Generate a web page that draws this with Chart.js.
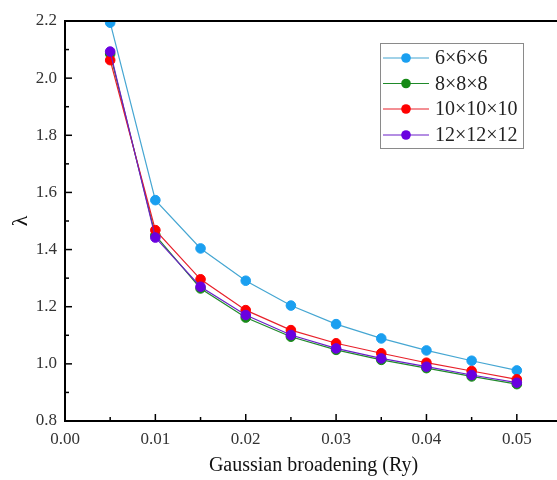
<!DOCTYPE html>
<html>
<head>
<meta charset="utf-8">
<script src="https://cdn.jsdelivr.net/npm/chart.js@4/dist/chart.umd.min.js"></script>
<style>
  html, body { margin: 0; padding: 0; background: #fff; overflow: hidden; }
  #wrap { width: 570px; height: 480px; }
</style>
</head>
<body>
<div id="wrap"><canvas id="lambda_Chart" width="570" height="480"></canvas></div>
<script>
// gaussian broadening (Ry)
let broadening = [0.005, 0.010, 0.015, 0.020, 0.025, 0.030, 0.035, 0.040, 0.045, 0.050];

let k6  = [2.194, 1.573, 1.404, 1.291, 1.204, 1.139, 1.089, 1.047, 1.011, 0.977];
let k8  = [2.085, 1.450, 1.264, 1.162, 1.095, 1.049, 1.014, 0.985, 0.956, 0.929];
let k10 = [2.063, 1.468, 1.296, 1.188, 1.118, 1.072, 1.037, 1.004, 0.975, 0.946];
let k12 = [2.093, 1.442, 1.270, 1.171, 1.101, 1.054, 1.019, 0.990, 0.961, 0.934];

let series_names = ['6×6×6', '8×8×8', '10×10×10', '12×12×12'];
let line_colors = ['#45a6d2', '#1f8a2a', '#e8202a', '#6a1fc8'];
let dot_colors = ['#1a9ff0', '#168a16', '#ff0000', '#6a00e0'];

function pts(ys) {
    return ys.map((y, i) => ({x: broadening[i], y: y}));
}

function makeSet(i, ys, order) {
    return {
        label: series_names[i],
        data: pts(ys),
        borderColor: line_colors[i],
        backgroundColor: dot_colors[i],
        pointBackgroundColor: dot_colors[i],
        pointBorderColor: dot_colors[i],
        borderWidth: 1.2,
        pointRadius: 4.8,
        pointBorderWidth: 1,
        tension: 0,
        order: order,
    };
}

// inward ticks + top frame line
const frameTicks = {
    id: 'frameTicks',
    afterDraw(chart) {
        const c = chart.ctx, a = chart.chartArea;
        const xs = chart.scales.x, ys = chart.scales.y;
        c.save();
        c.strokeStyle = '#000';
        c.lineWidth = 2;
        c.beginPath();
        c.moveTo(a.left, a.top);
        c.lineTo(a.right + 10, a.top);
        c.stroke();
        c.lineWidth = 1.5;
        xs.ticks.forEach((t, i) => {
            let px = xs.getPixelForValue(t.value);
            let len = (i % 2 == 0) ? 7 : 4;
            c.beginPath();
            c.moveTo(px, a.bottom);
            c.lineTo(px, a.bottom - len);
            c.stroke();
        });
        ys.ticks.forEach((t, i) => {
            let py = ys.getPixelForValue(t.value);
            let len = (i % 2 == 0) ? 7 : 4;
            c.beginPath();
            c.moveTo(a.left, py);
            c.lineTo(a.left + len, py);
            c.stroke();
        });
        c.restore();
    }
};

// boxed legend inside the plot
const boxLegend = {
    id: 'boxLegend',
    afterDraw(chart) {
        const c = chart.ctx;
        c.save();
        c.strokeStyle = '#8a8a8a';
        c.lineWidth = 1;
        c.strokeRect(380.5, 43.5, 143, 105);
        c.font = '20px "Liberation Serif", "Times New Roman", serif';
        c.textBaseline = 'middle';
        let rows = [58, 83.5, 109, 135];
        chart.data.datasets.forEach((ds, i) => {
            let y = rows[i];
            c.strokeStyle = ds.borderColor;
            c.lineWidth = 1.2;
            c.beginPath();
            c.moveTo(383, y);
            c.lineTo(429, y);
            c.stroke();
            c.fillStyle = ds.pointBackgroundColor;
            c.beginPath();
            c.arc(406, y, 4.8, 0, Math.PI * 2);
            c.fill();
            c.fillStyle = '#222';
            c.fillText(ds.label, 435, y + 1);
        });
        c.restore();
    }
};

let ctx = document.getElementById('lambda_Chart');
let graphData = {
    type: 'line',
    data: {
        datasets: [
            makeSet(0, k6, 4),
            makeSet(1, k8, 3),
            makeSet(2, k10, 2),
            makeSet(3, k12, 1),
        ]
    },
    options: {
        responsive: false,
        animation: false,
        layout: { padding: { top: 21, right: 8, left: 0, bottom: 0 } },
        plugins: { legend: { display: false }, tooltip: { enabled: false } },
        scales: {
            x: {
                type: 'linear',
                min: 0,
                max: 0.055,
                afterFit: (s) => { s.height = 59; },
                afterBuildTicks: (s) => {
                    let t = [];
                    for (let i = 0; i <= 11; i++) t.push({value: i * 0.005});
                    s.ticks = t;
                },
                ticks: {
                    color: '#333',
                    padding: 8,
                    maxRotation: 0,
                    autoSkip: false,
                    font: { family: '"Liberation Serif", "Times New Roman", serif', size: 17 },
                    callback: (v, i) => (i % 2 == 0 && i < 11) ? v.toFixed(2) : '',
                },
                grid: { display: false, drawTicks: false },
                border: { display: true, color: '#000', width: 2 },
                title: {
                    display: true,
                    text: 'Gaussian broadening (Ry)',
                    color: '#111',
                    font: { family: '"Liberation Serif", "Times New Roman", serif', size: 20 },
                    padding: { top: 6, bottom: 2 },
                },
            },
            y: {
                min: 0.8,
                max: 2.2,
                afterFit: (s) => { s.width = 65; },
                afterBuildTicks: (s) => {
                    let t = [];
                    for (let i = 0; i <= 14; i++) t.push({value: 0.8 + i * 0.1});
                    s.ticks = t;
                },
                ticks: {
                    color: '#333',
                    padding: 8,
                    autoSkip: false,
                    font: { family: '"Liberation Serif", "Times New Roman", serif', size: 17 },
                    callback: (v, i) => (i % 2 == 0) ? v.toFixed(1) : '',
                },
                grid: { display: false, drawTicks: false },
                border: { display: true, color: '#000', width: 2 },
                title: {
                    display: true,
                    text: 'λ',
                    color: '#111',
                    font: { family: '"Liberation Serif", "Times New Roman", serif', size: 22 },
                    padding: { top: 8, bottom: 0 },
                },
            }
        },
    },
    plugins: [frameTicks, boxLegend]
};

let lambda_Chart = new Chart(ctx, graphData);
</script>
</body>
</html>
